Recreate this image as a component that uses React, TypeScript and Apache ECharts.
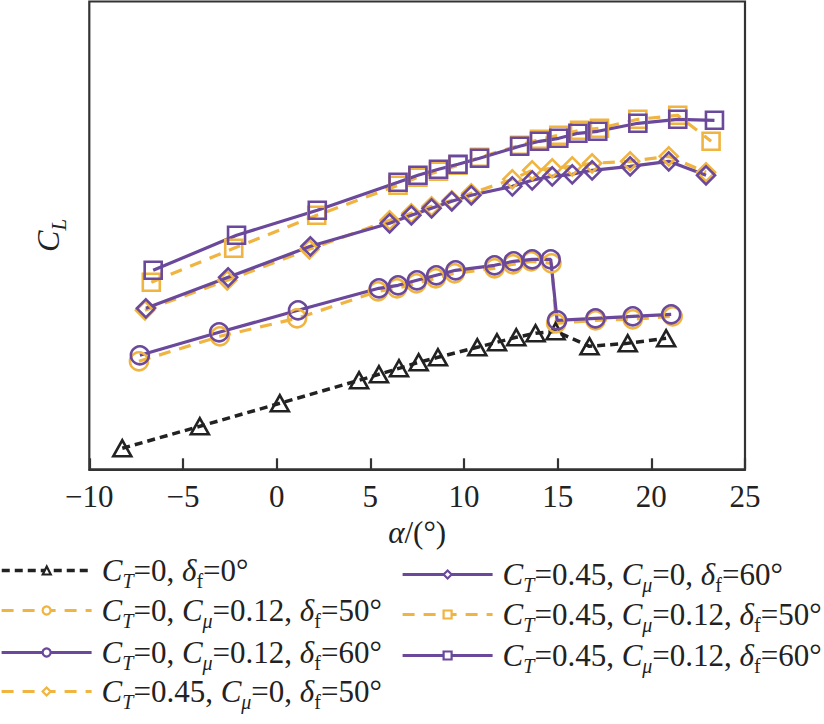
import React, { useEffect, useRef } from "react";
import * as echarts from "echarts";

// ---- data (alpha in degrees, CL in arbitrary units) ----
const alphaT0 = [-8.24, -4.1, 0.17, 4.4, 5.46, 6.53, 7.58, 8.61, 10.71, 11.76, 12.79, 13.82, 14.89, 16.7, 18.74, 20.79];
const clT0 = [0.21, 0.43, 0.66, 0.89, 0.95, 1.01, 1.07, 1.12, 1.22, 1.27, 1.32, 1.36, 1.38, 1.23, 1.26, 1.31];

const alphaC50 = [-7.35, -3.03, 1.09, 5.41, 6.42, 7.46, 8.49, 9.5, 11.63, 12.61, 13.59, 14.67, 14.92, 17.02, 19.01, 21.14];
const clC50 = [1.08, 1.33, 1.51, 1.78, 1.81, 1.86, 1.91, 1.96, 2.01, 2.05, 2.08, 2.06, 1.46, 1.49, 1.5, 1.53];

const alphaC60 = [-7.3, -3.07, 1.14, 5.46, 6.48, 7.49, 8.52, 9.55, 11.63, 12.65, 13.64, 14.63, 14.97, 17.02, 19.01, 21.06];
const clC60 = [1.14, 1.37, 1.59, 1.81, 1.84, 1.89, 1.94, 1.99, 2.04, 2.08, 2.1, 2.1, 1.49, 1.51, 1.53, 1.55];

const alphaD50 = [-7.03, -2.64, 1.75, 6.03, 7.19, 8.27, 9.35, 10.39, 12.58, 13.64, 14.71, 15.78, 16.84, 18.87, 20.93, 22.92];
const clD50 = [1.59, 1.89, 2.2, 2.49, 2.56, 2.63, 2.69, 2.76, 2.9, 2.99, 3.01, 3.03, 3.06, 3.08, 3.13, 2.97];

const alphaD60 = [-6.98, -2.59, 1.8, 6.03, 7.19, 8.27, 9.35, 10.39, 12.58, 13.64, 14.71, 15.78, 16.84, 18.87, 20.93, 22.92];
const clD60 = [1.61, 1.92, 2.23, 2.46, 2.54, 2.61, 2.68, 2.74, 2.83, 2.89, 2.93, 2.95, 2.99, 3.03, 3.08, 2.94];

const alphaS50 = [-6.69, -2.29, 2.14, 6.48, 7.54, 8.64, 9.68, 10.83, 12.97, 14.03, 15.06, 16.17, 17.23, 19.28, 21.41, 23.19];
const clS50 = [1.87, 2.21, 2.54, 2.84, 2.92, 2.98, 3.04, 3.12, 3.24, 3.3, 3.34, 3.39, 3.41, 3.5, 3.54, 3.28];

const alphaS60 = [-6.59, -2.14, 2.17, 6.48, 7.54, 8.64, 9.68, 10.83, 12.97, 14.03, 15.06, 16.08, 17.14, 19.28, 21.41, 23.37];
const clS60 = [1.99, 2.34, 2.59, 2.87, 2.94, 3.0, 3.05, 3.11, 3.23, 3.28, 3.31, 3.36, 3.38, 3.46, 3.5, 3.49];

const seriesNames = [
  "CT=0, δf=0°",
  "CT=0, Cμ=0.12, δf=50°",
  "CT=0, Cμ=0.12, δf=60°",
  "CT=0.45, Cμ=0, δf=50°",
  "CT=0.45, Cμ=0, δf=60°",
  "CT=0.45, Cμ=0.12, δf=50°",
  "CT=0.45, Cμ=0.12, δf=60°",
];

const legendRich = [
  "{c0|C}{s|T}{n|=0, }{g|δ}{f|f}{n|=0°}",
  "{c0|C}{s|T}{n|=0, }{c|C}{s|μ}{n|=0.12, }{g|δ}{f|f}{n|=50°}",
  "{c0|C}{s|T}{n|=0, }{c|C}{s|μ}{n|=0.12, }{g|δ}{f|f}{n|=60°}",
  "{c0|C}{s|T}{n|=0.45, }{c|C}{s|μ}{n|=0, }{g|δ}{f|f}{n|=50°}",
  "{c0|C}{s|T}{n|=0.45, }{c|C}{s|μ}{n|=0, }{g|δ}{f|f}{n|=60°}",
  "{c0|C}{s|T}{n|=0.45, }{c|C}{s|μ}{n|=0.12, }{g|δ}{f|f}{n|=50°}",
  "{c0|C}{s|T}{n|=0.45, }{c|C}{s|μ}{n|=0.12, }{g|δ}{f|f}{n|=60°}",
];

const xTicks = [-10, 25, 5]; // min, max, interval

const PURPLE = "#6a489b";
const ORANGE = "#f0b441";
const BLACK = "#222222";
const FONT = "Liberation Serif";

const zip = (a: number[], b: number[]) => a.map((v, i) => [v, b[i]]);

const richStyles = {
  c0: { fontFamily: FONT, fontSize: 31, fontStyle: "italic", color: "#222", padding: [0, 0, 0, 5] },
  c: { fontFamily: FONT, fontSize: 31, fontStyle: "italic", color: "#222" },
  g: { fontFamily: FONT, fontSize: 31, fontStyle: "italic", color: "#222" },
  n: { fontFamily: FONT, fontSize: 31, color: "#222" },
  s: { fontFamily: FONT, fontSize: 20, fontStyle: "italic", color: "#222", padding: [20, 0, 0, 0] },
  f: { fontFamily: FONT, fontSize: 20, color: "#222", padding: [20, 0, 0, 0] },
};

type Style = { color: string; symbol: string; size: number | number[]; dash: number[] | "solid"; width: number };
const styles: Style[] = [
  { color: BLACK, symbol: "triangle", size: [18, 16], dash: [8, 5], width: 3.5 },
  { color: ORANGE, symbol: "circle", size: 18, dash: [12, 9], width: 3.2 },
  { color: PURPLE, symbol: "circle", size: 18, dash: "solid", width: 3.2 },
  { color: ORANGE, symbol: "diamond", size: 18, dash: [12, 9], width: 3.2 },
  { color: PURPLE, symbol: "diamond", size: 18, dash: "solid", width: 3.2 },
  { color: ORANGE, symbol: "rect", size: 17, dash: [12, 9], width: 3.2 },
  { color: PURPLE, symbol: "rect", size: 17, dash: "solid", width: 3.2 },
];

export default function App() {
  const ref = useRef<HTMLDivElement>(null);
  useEffect(() => {
    if (!ref.current) return;
    const chart = echarts.init(ref.current, undefined, { renderer: "svg" });

    const datasets = [
      zip(alphaT0, clT0),
      zip(alphaC50, clC50),
      zip(alphaC60, clC60),
      zip(alphaD50, clD50),
      zip(alphaD60, clD60),
      zip(alphaS50, clS50),
      zip(alphaS60, clS60),
    ];

    const legendPos = [
      [0, 555],
      [0, 595],
      [0, 637],
      [0, 676],
      [401, 559],
      [401, 599],
      [401, 640],
    ];

    chart.setOption({
      animation: false,
      grid: {
        left: 89.3,
        right: 824 - 745,
        top: 1.5,
        bottom: 724 - 469.3,
        show: true,
        borderColor: "#333",
        borderWidth: 2.2,
        containLabel: false,
      },
      xAxis: {
        type: "value",
        min: xTicks[0],
        max: xTicks[1],
        interval: xTicks[2],
        axisLine: { show: true, lineStyle: { color: "#333", width: 2.2 } },
        axisTick: { show: true, inside: true, length: 11, lineStyle: { color: "#333", width: 2.2 } },
        splitLine: { show: false },
        axisLabel: {
          margin: 12,
          fontFamily: FONT,
          fontSize: 31,
          color: "#222",
          formatter: (v: number) => String(v).replace("-", "\u2212"),
        },
        name: "{i|α}{n|/(°)}",
        nameLocation: "middle",
        nameGap: 38,
        nameTextStyle: {
          fontFamily: FONT,
          fontSize: 31,
          color: "#222",
          rich: {
            i: { fontFamily: FONT, fontSize: 31, fontStyle: "italic", color: "#222" },
            n: { fontFamily: FONT, fontSize: 31, color: "#222" },
          },
        },
      },
      yAxis: {
        type: "value",
        min: 0,
        max: 4.678,
        axisLine: { show: false, onZero: false },
        axisTick: { show: false },
        axisLabel: { show: false },
        splitLine: { show: false },
        name: "{c|C}{s|L}",
        nameLocation: "middle",
        nameRotate: 90,
        nameGap: 20,
        nameTextStyle: {
          fontFamily: FONT,
          fontSize: 32,
          color: "#222",
          rich: {
            c: { fontFamily: FONT, fontSize: 32, fontStyle: "italic", color: "#222" },
            s: { fontFamily: FONT, fontSize: 21, fontStyle: "italic", color: "#222", padding: [22, 0, 0, 0] },
          },
        },
      },
      legend: seriesNames.map((n, i) => ({
        data: [n],
        left: legendPos[i][0],
        top: legendPos[i][1],
        padding: 0,
        itemGap: 0,
        itemWidth: 90,
        itemHeight: 10,
        selectedMode: false,
        lineStyle: { width: styles[i].width, type: styles[i].dash, color: styles[i].color },
        itemStyle: { color: "#fff", borderColor: styles[i].color, borderWidth: 2.2 },
        formatter: (name: string) => legendRich[seriesNames.indexOf(name)],
        textStyle: { fontFamily: FONT, fontSize: 31, color: "#222", rich: richStyles },
      })),
      series: styles.map((s, i) => ({
        name: seriesNames[i],
        type: "line",
        data: datasets[i],
        symbol: s.symbol,
        symbolSize: s.size,
        showSymbol: true,
        lineStyle: { color: s.color, width: s.width, type: s.dash },
        itemStyle: { color: "rgba(0,0,0,0)", borderColor: s.color, borderWidth: 2.6 },
        emphasis: { disabled: true },
      })),
    });
    return () => chart.dispose();
  }, []);
  return (
    <div
      ref={ref}
      style={{ position: "absolute", left: 0, top: 0, width: 824, height: 724, background: "#fff" }}
    />
  );
}
